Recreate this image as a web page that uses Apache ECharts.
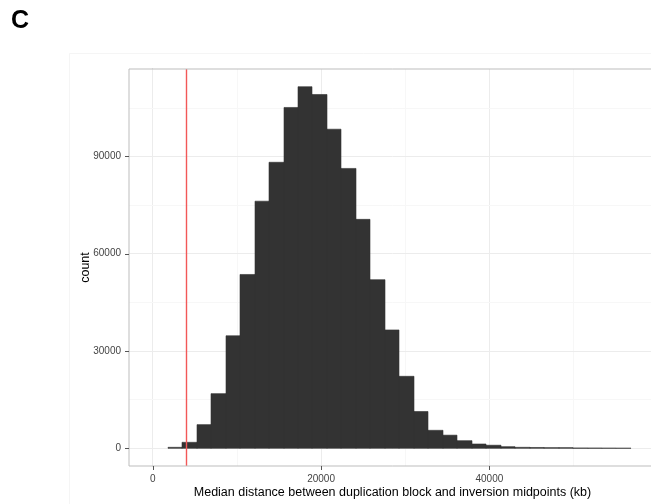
<!DOCTYPE html>
<html>
<head>
<meta charset="utf-8">
<script src="https://cdn.jsdelivr.net/npm/echarts@6/dist/echarts.min.js"></script>
<style>
html,body{margin:0;padding:0;background:#fff;overflow:hidden;}
#chart{width:656px;height:504px;}
</style>
</head>
<body>
<div id="chart"></div>
<script>
// Histogram bin edges (kb) and counts
const binEdges = [1780, 3500, 5220, 6940, 8660, 10380, 12100, 13820, 15540, 17260, 18980, 20700, 22420, 24140, 25860, 27580, 29300, 31020, 32740, 34460, 36180, 37900, 39620, 41340, 43060, 44780, 46500, 48220, 49940, 51660, 53380, 55100, 56820];
const counts = [300, 1850, 7300, 16850, 34700, 53600, 76200, 88200, 105100, 111500, 109100, 98400, 86300, 70600, 52000, 36500, 22200, 11350, 5550, 4050, 2350, 1330, 950, 500, 300, 250, 200, 200, 100, 80, 50, 30];
const cutoff = 3930;
const xTicks = [0, 20000, 40000];
const xMinorGrid = [10000, 30000, 50000];
const yTicks = [0, 30000, 60000, 90000];
const yMinorGrid = [15000, 45000, 75000, 105000];
const xTitle = 'Median distance between duplication block and inversion midpoints (kb)';
const yTitle = 'count';
const panelLabel = 'C';

const bars = counts.map((c, i) => [binEdges[i], binEdges[i + 1], c]);

const FONT = 'Liberation Sans';
const gridLines = [];
xTicks.forEach(v => gridLines.push({xAxis: v, lineStyle: {color: '#ececec', width: 1, type: 'solid'}}));
xMinorGrid.forEach(v => gridLines.push({xAxis: v, lineStyle: {color: '#f7f7f7', width: 1, type: 'solid'}}));
yTicks.forEach(v => gridLines.push({yAxis: v, lineStyle: {color: '#ececec', width: 1, type: 'solid'}}));
yMinorGrid.forEach(v => gridLines.push({yAxis: v, lineStyle: {color: '#f7f7f7', width: 1, type: 'solid'}}));

const plain = v => String(Math.round(v));

const chart = echarts.init(document.getElementById('chart'), null, {renderer: 'canvas'});
chart.setOption({
  animation: false,
  backgroundColor: '#ffffff',
  textStyle: {fontFamily: FONT},
  graphic: [
    {type: 'rect', silent: true, z: -10, shape: {x: 69.5, y: 53.5, width: 700, height: 500}, style: {fill: 'none', stroke: '#f5f5f5', lineWidth: 1}},
    {type: 'text', left: 11, top: 9, style: {text: panelLabel, font: 'bold 25px "Liberation Sans"', fill: '#000'}}
  ],
  grid: {left: 129, right: 0, top: 69, bottom: 38, show: true, borderColor: '#bdbdbd', borderWidth: 1, backgroundColor: 'transparent', z: 10},
  xAxis: {
    type: 'value', min: -2816, max: 59795,
    name: xTitle, nameLocation: 'middle', nameGap: 20, nameMoveOverlap: false,
    nameTextStyle: {fontFamily: FONT, fontSize: 12.5, color: '#000'},
    axisLine: {show: true, lineStyle: {color: '#bdbdbd', width: 1}},
    axisTick: {show: false},
    axisLabel: {customValues: xTicks, formatter: plain, margin: 8, fontFamily: FONT, fontSize: 10, color: '#444444'},
    splitLine: {show: false}
  },
  yAxis: {
    type: 'value', min: -5458, max: 116960,
    name: yTitle, nameLocation: 'middle', nameGap: 37, nameRotate: 90, nameMoveOverlap: false,
    nameTextStyle: {fontFamily: FONT, fontSize: 12.5, color: '#000'},
    axisLine: {show: true, lineStyle: {color: '#bdbdbd', width: 1}},
    axisTick: {show: false},
    axisLabel: {customValues: yTicks, formatter: plain, margin: 8, fontFamily: FONT, fontSize: 10, color: '#444444'},
    splitLine: {show: false}
  },
  series: [
    {
      type: 'line', data: [], silent: true,
      markLine: {silent: true, z: 1, symbol: ['none', 'none'], label: {show: false}, emphasis: {disabled: true}, data: gridLines}
    },
    {
      type: 'custom', z: 3, silent: true,
      encode: {x: [0, 1], y: 2},
      data: bars,
      renderItem: function (params, api) {
        const p0 = api.coord([api.value(0), api.value(2)]);
        const p1 = api.coord([api.value(1), 0]);
        const x0 = Math.round(p0[0]), x1 = Math.round(p1[0]);
        return {type: 'rect', shape: {x: x0, y: p0[1], width: x1 - x0, height: p1[1] - p0[1]},
          style: {fill: '#333333', stroke: '#333333', lineWidth: 0.6}};
      }
    },
    {
      type: 'line', data: [], silent: true,
      markLine: {silent: true, z: 6, symbol: ['none', 'none'], label: {show: false}, emphasis: {disabled: true},
        lineStyle: {color: '#f25858', width: 1.4, type: 'solid'}, data: [{xAxis: cutoff}]}
    }
  ]
});

// Tick marks placed through the axis scales
const axisX = chart.convertToPixel({xAxisIndex: 0}, -2816);
const axisY = chart.convertToPixel({yAxisIndex: 0}, -5458);
const tickEls = [];
xTicks.forEach(v => {
  const px = Math.round(chart.convertToPixel({xAxisIndex: 0}, v)) + 0.5;
  tickEls.push({type: 'line', silent: true, z: 20, shape: {x1: px, y1: axisY, x2: px, y2: axisY + 4}, style: {stroke: '#555555', lineWidth: 1}});
});
yTicks.forEach(v => {
  const py = Math.round(chart.convertToPixel({yAxisIndex: 0}, v)) + 0.5;
  tickEls.push({type: 'line', silent: true, z: 20, shape: {x1: axisX - 4, y1: py, x2: axisX, y2: py}, style: {stroke: '#555555', lineWidth: 1}});
});
chart.setOption({graphic: tickEls.map((e, i) => Object.assign({id: 'tick' + i}, e))});
</script>
</body>
</html>
